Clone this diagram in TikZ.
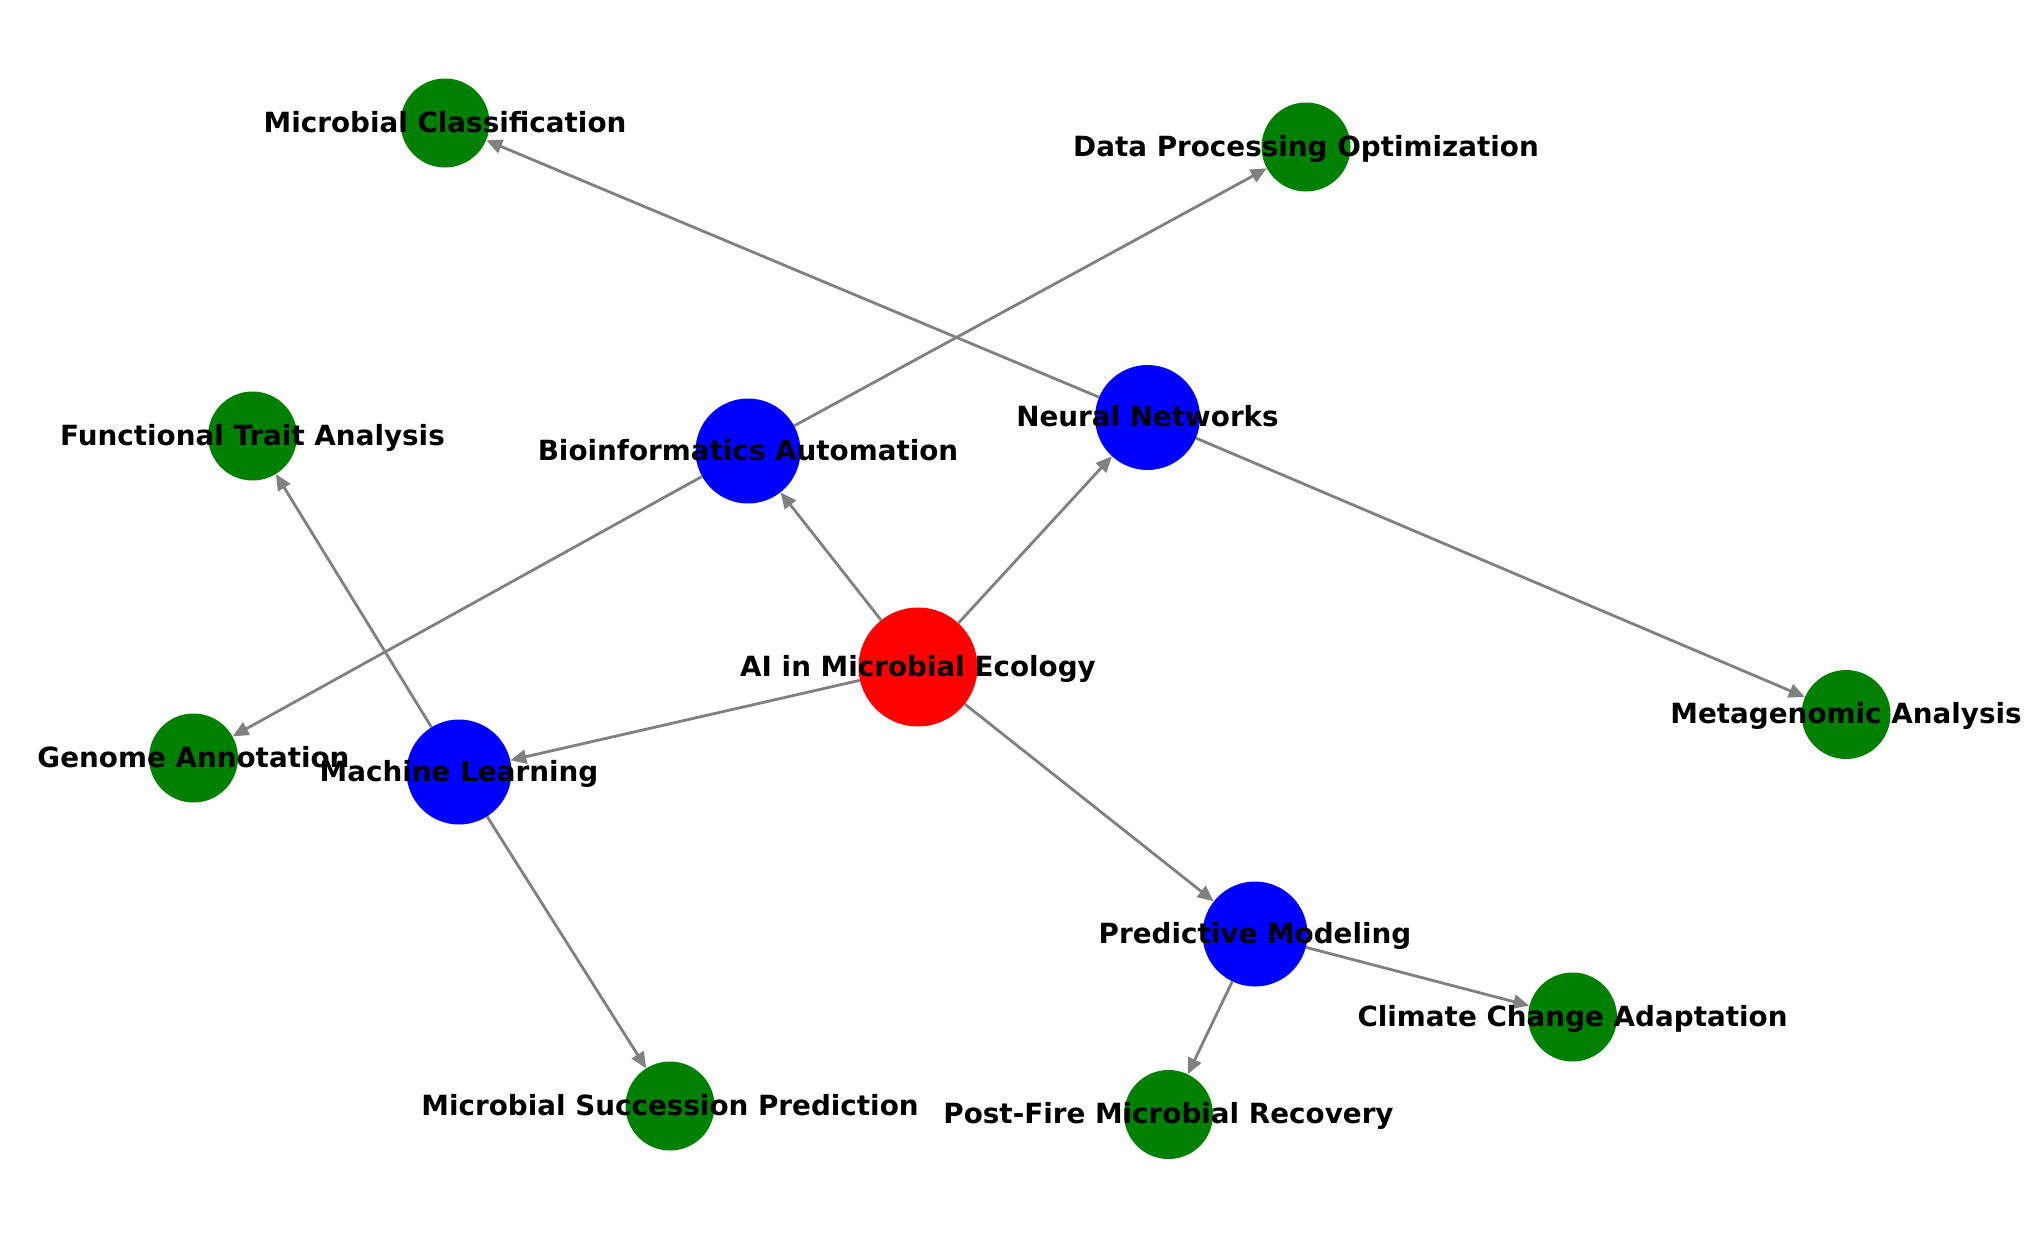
\documentclass[tikz,border=0pt]{standalone}
\usepackage{fontspec}
\setmainfont{DejaVu Sans}[BoldFont={DejaVu Sans Bold}]
\usetikzlibrary{arrows.meta}
\definecolor{nxred}{HTML}{FF0000}
\definecolor{nxblue}{HTML}{0000FF}
\definecolor{nxgreen}{HTML}{008000}
\definecolor{edgegray}{HTML}{808080}
\begin{document}
\begin{tikzpicture}[x=1pt,y=-1pt,
  rootnode/.style={circle,inner sep=0pt,minimum size=119pt,fill=nxred},
  hubnode/.style={circle,inner sep=0pt,minimum size=105pt,fill=nxblue},
  leafnode/.style={circle,inner sep=0pt,minimum size=89pt,fill=nxgreen},
  lab/.style={anchor=base,inner sep=0pt,font=\fontsize{27.8}{33}\selectfont\bfseries},
  edge/.style={draw=edgegray,line width=2.8pt,-{Triangle[length=16pt,width=14pt]}}]
\useasboundingbox (0,0) rectangle (2039,1239);
\fill[white] (0,0) rectangle (2039,1239);
% nodes
\node[rootnode] (ai) at (918,667) {};
\node[hubnode] (bio) at (748,451) {};
\node[hubnode] (nn) at (1147.5,417.5) {};
\node[hubnode] (ml) at (459,772) {};
\node[hubnode] (pm) at (1255,934) {};
\node[leafnode] (mc) at (445,123) {};
\node[leafnode] (dpo) at (1306,147) {};
\node[leafnode] (fta) at (252.5,436) {};
\node[leafnode] (ga) at (193.5,758) {};
\node[leafnode] (ma) at (1846,714.5) {};
\node[leafnode] (msp) at (670,1106) {};
\node[leafnode] (pfr) at (1168.5,1114.5) {};
\node[leafnode] (cca) at (1572.5,1017) {};
% edges
\draw[edge] (ai) -- (bio);
\draw[edge] (ai) -- (nn);
\draw[edge] (ai) -- (ml);
\draw[edge] (ai) -- (pm);
\draw[edge] (nn) -- (mc);
\draw[edge] (nn) -- (ma);
\draw[edge] (bio) -- (dpo);
\draw[edge] (bio) -- (ga);
\draw[edge] (ml) -- (fta);
\draw[edge] (ml) -- (msp);
\draw[edge] (pm) -- (cca);
\draw[edge] (pm) -- (pfr);
% labels
\node[lab] (ai-t) at (918,676) {AI in Microbial Ecology};
\node[lab] (bio-t) at (748,460) {Bioinformatics Automation};
\node[lab] (nn-t) at (1147.5,426.5) {Neural Networks};
\node[lab] (ml-t) at (459,781) {Machine Learning};
\node[lab] (pm-t) at (1255,943) {Predictive Modeling};
\node[lab] (mc-t) at (445,132) {Microbial Classification};
\node[lab] (dpo-t) at (1306,156) {Data Processing Optimization};
\node[lab] (fta-t) at (252.5,445) {Functional Trait Analysis};
\node[lab] (ga-t) at (193.5,767) {Genome Annotation};
\node[lab] (ma-t) at (1846,723.5) {Metagenomic Analysis};
\node[lab] (msp-t) at (670,1115) {Microbial Succession Prediction};
\node[lab] (pfr-t) at (1168.5,1123.5) {Post-Fire Microbial Recovery};
\node[lab] (cca-t) at (1572.5,1026) {Climate Change Adaptation};
\end{tikzpicture}
\end{document}
